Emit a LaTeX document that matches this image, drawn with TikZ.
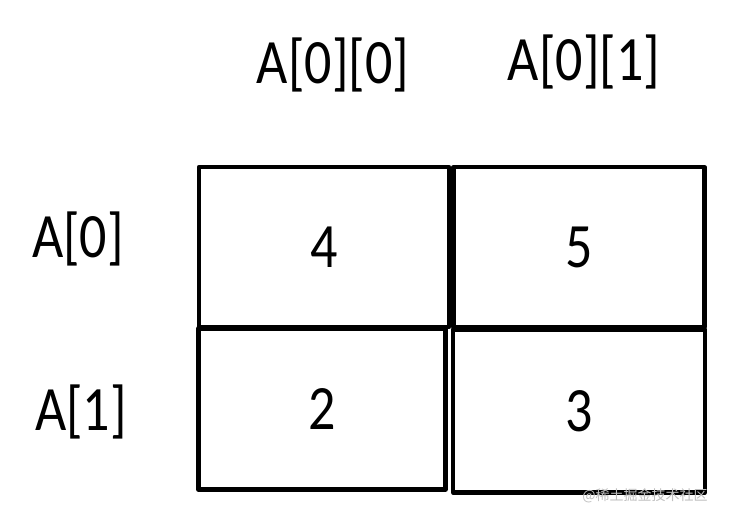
\documentclass[tikz,border=0pt]{standalone}
\usepackage{graphicx}
\usepackage{fontspec}
\setmainfont{Carlito}
\newfontfamily\cjkfont{Noto Sans CJK SC}
\newcommand\tallt[1]{\scalebox{1}[1.17]{#1}}
\begin{document}
\begin{tikzpicture}[x=1pt,y=-1pt,
  cell/.style={draw=black, line width=4.2pt, inner sep=0pt, line join=round,
    minimum width=#1, minimum height=160pt, font=\fontsize{54}{58}\selectfont},
  cell/.default=250pt,
  lab/.style={inner sep=0pt, font=\fontsize{54}{58}\selectfont}]
\useasboundingbox (0,0) rectangle (730,519);
\node[cell=250pt] (c00) at (324,247) {\tallt{4}};
\node[cell=251pt] (c01) at (579,247) {\tallt{5}};
\node[cell=247pt, minimum height=161pt] (c10) at (322,409) {\tallt{2}};
\node[cell=252pt, minimum height=163pt] (c11) at (579,411) {\tallt{3}};
\node[lab] (h00) at (333,65) {\tallt{A[0][0]}};
\node[lab] (h01) at (584,62) {\tallt{A[0][1]}};
\node[lab] (r0) at (78,239) {\tallt{A[0]}};
\node[lab] (r1) at (81,412) {\tallt{A[1]}};
\node[inner sep=0pt, text=black!25, font=\cjkfont\fontsize{14}{16}\selectfont] (wm) at (645,496) {@稀土掘金技术社区};
\end{tikzpicture}
\end{document}
